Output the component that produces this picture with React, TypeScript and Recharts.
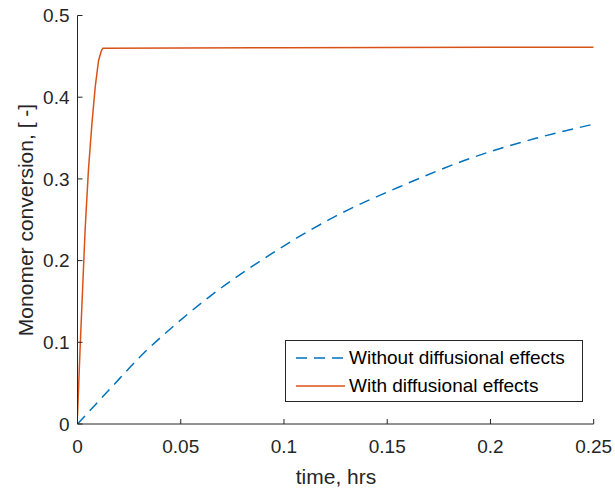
import React from 'react';
import { LineChart, Line, XAxis, YAxis, Legend } from 'recharts';

// Without diffusional effects (blue dashed)
const timeWithout = [0, 0.016, 0.032, 0.048, 0.064, 0.087, 0.1255, 0.158, 0.19, 0.222, 0.25];
const convWithout = [0, 0.0437, 0.0865, 0.123, 0.156, 0.197, 0.255, 0.2925, 0.325, 0.3497, 0.367];

// With diffusional effects (red solid)
const timeWith = [0, 0.0013, 0.0026, 0.0037, 0.0053, 0.007, 0.0086, 0.0102, 0.0116, 0.0123, 0.05, 0.1, 0.15, 0.2, 0.25];
const convWith = [0.01, 0.0955, 0.173, 0.238, 0.311, 0.368, 0.413, 0.445, 0.457, 0.46, 0.4603, 0.4606, 0.4608, 0.461, 0.4612];

const xTicks = [0, 0.05, 0.1, 0.15, 0.2, 0.25];
const xTickLabels = ['0', '0.05', '0.1', '0.15', '0.2', '0.25'];
const yTicks = [0, 0.1, 0.2, 0.3, 0.4, 0.5];
const yTickLabels = ['0', '0.1', '0.2', '0.3', '0.4', '0.5'];

const seriesNames = ['Without diffusional effects', 'With diffusional effects'];
const xTitle = 'time, hrs';
const yTitle = 'Monomer conversion, [ -]';

const dataWithout = timeWithout.map((t, i) => ({ t, v: convWithout[i] }));
const dataWith = timeWith.map((t, i) => ({ t, v: convWith[i] }));

const FONT = '"Liberation Sans", Arial, Helvetica, sans-serif';
const AXIS = '#262626';
const BLUE = '#0072BD';
const RED = '#D95319';
const DASH = '11 7';

const renderLegend = () => (
  <div
    style={{
      width: 298,
      height: 62,
      boxSizing: 'border-box',
      border: '1px solid #262626',
      background: '#fff',
      fontFamily: FONT,
      fontSize: 19,
      color: '#000',
      position: 'relative',
    }}
  >
    {seriesNames.map((name, i) => (
      <div
        key={name}
        style={{
          position: 'absolute',
          left: 10,
          top: i === 0 ? 16.7 - 12 : 45 - 12,
          height: 24,
          display: 'flex',
          alignItems: 'center',
          whiteSpace: 'nowrap',
        }}
      >
        <svg width={49} height={24} style={{ display: 'block' }}>
          <line
            x1={0}
            x2={49}
            y1={12}
            y2={12}
            stroke={i === 0 ? BLUE : RED}
            strokeWidth={1.5}
            strokeDasharray={i === 0 ? DASH : undefined}
          />
        </svg>
        <span style={{ marginLeft: 4, lineHeight: '24px' }}>{name}</span>
      </div>
    ))}
  </div>
);

export default function App() {
  return (
    <div style={{ position: 'absolute', left: 0, top: 0, width: 615, height: 492, background: '#fff' }}>
      <LineChart width={615} height={492} margin={{ top: 15.5, right: 21.3, left: 0, bottom: 0 }}>
        <XAxis
          dataKey="t"
          type="number"
          domain={[0, 0.25]}
          ticks={xTicks}
          tickFormatter={(v: number) => xTickLabels[xTicks.indexOf(v)] ?? String(v)}
          height={68}
          allowDataOverflow
          stroke={AXIS}
          strokeWidth={1}
          tickSize={-5}
          tickMargin={21}
          tick={{ fontSize: 19, fill: AXIS, fontFamily: FONT }}
          label={{
            content: () => (
              <text x={336} y={484} textAnchor="middle" fontSize={21} fill={AXIS} fontFamily={FONT}>
                {xTitle}
              </text>
            ),
          }}
        />
        <YAxis
          type="number"
          domain={[0, 0.5]}
          ticks={yTicks}
          tickFormatter={(v: number) => yTickLabels[yTicks.indexOf(v)] ?? String(v)}
          width={77.5}
          allowDataOverflow
          stroke={AXIS}
          strokeWidth={1}
          tickSize={-5}
          tickMargin={13}
          tick={{ fontSize: 19, fill: AXIS, fontFamily: FONT }}
          label={{
            content: () => (
              <text
                x={33}
                y={220}
                transform="rotate(-90 33 220)"
                textAnchor="middle"
                fontSize={21}
                fill={AXIS}
                fontFamily={FONT}
              >
                {yTitle}
              </text>
            ),
          }}
        />
        <Legend
          verticalAlign="middle"
          align="center"
          content={renderLegend}
          wrapperStyle={{ position: 'absolute', left: 285, top: 340, width: 298, height: 62 }}
        />
        <Line
          data={dataWithout}
          dataKey="v"
          name={seriesNames[0]}
          type="monotone"
          stroke={BLUE}
          strokeWidth={1.5}
          strokeDasharray={DASH}
          dot={false}
          activeDot={false}
          isAnimationActive={false}
        />
        <Line
          data={dataWith}
          dataKey="v"
          name={seriesNames[1]}
          type="linear"
          stroke={RED}
          strokeWidth={1.5}
          dot={false}
          activeDot={false}
          isAnimationActive={false}
        />
      </LineChart>
    </div>
  );
}
